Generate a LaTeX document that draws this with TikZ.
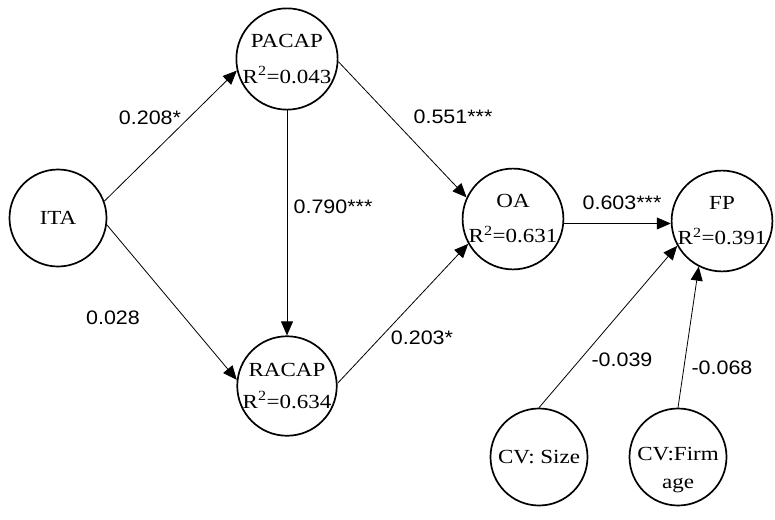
\documentclass[tikz,border=0pt]{standalone}
\usepackage{fontspec}
\setmainfont{Liberation Serif}[FakeStretch=1.15]
\newfontfamily\lblfont{Liberation Sans}[FakeStretch=1.1]
\usetikzlibrary{arrows.meta}
\begin{document}
\begin{tikzpicture}[x=1pt,y=-1pt,
  var/.style={circle,draw,line width=1.7pt,minimum size=97pt,inner sep=0pt,align=center,
    font=\fontsize{20}{23}\selectfont},
  pth/.style={line width=0.8pt,-{Triangle[length=14pt,width=12pt]}},
  coef/.style={font=\lblfont\fontsize{19.5}{22}\selectfont,inner sep=0pt}]
\useasboundingbox (0,0) rectangle (775,519);
% variables
\node[var] (ita)   at (58,218)  {ITA};
\node[var] (pacap) at (287,59)  {PACAP\\[13pt]R\textsuperscript{2}=0.043};
\node[var] (racap) at (287,386) {RACAP\\[9pt]R\textsuperscript{2}=0.634};
\node[var] (oa)    at (513,219) {OA\\[12pt]R\textsuperscript{2}=0.631};
\node[var] (fp)    at (722,221) {FP\\[12pt]R\textsuperscript{2}=0.391};
\node[var] (cvs)   at (539,457) {CV: Size};
\node[var] (cvf)   at (678,457) {\rule{0pt}{40pt}\makebox[0pt]{CV:Firm}\\[5pt]\makebox[0pt]{age}};
% paths
\draw[pth] (ita.20)    -- (pacap.193);
\draw[pth] (ita.-8)    -- (racap.173);
\draw[pth] (pacap.south) -- (racap.north);
\draw[pth] (pacap.-3)  -- (oa.155);
\draw[pth] (racap.3)   -- (oa.209);
\draw[pth] (oa.-5)     -- (oa.-5 -| fp.west);
\draw[pth] (cvs.north) -- (fp.209);
\draw[pth] (cvf.north) -- (fp.243);
% coefficients
\node[coef] (c1) at (150,118) {0.208*};
\node[coef] (c2) at (333,207) {0.790***};
\node[coef] (c3) at (113,318) {0.028};
\node[coef] (c4) at (453,117) {0.551***};
\node[coef] (c5) at (622,203) {0.603***};
\node[coef] (c6) at (422,338) {0.203*};
\node[coef] (c7) at (622,360) {-0.039};
\node[coef] (c8) at (722,368) {-0.068};
\end{tikzpicture}
\end{document}
